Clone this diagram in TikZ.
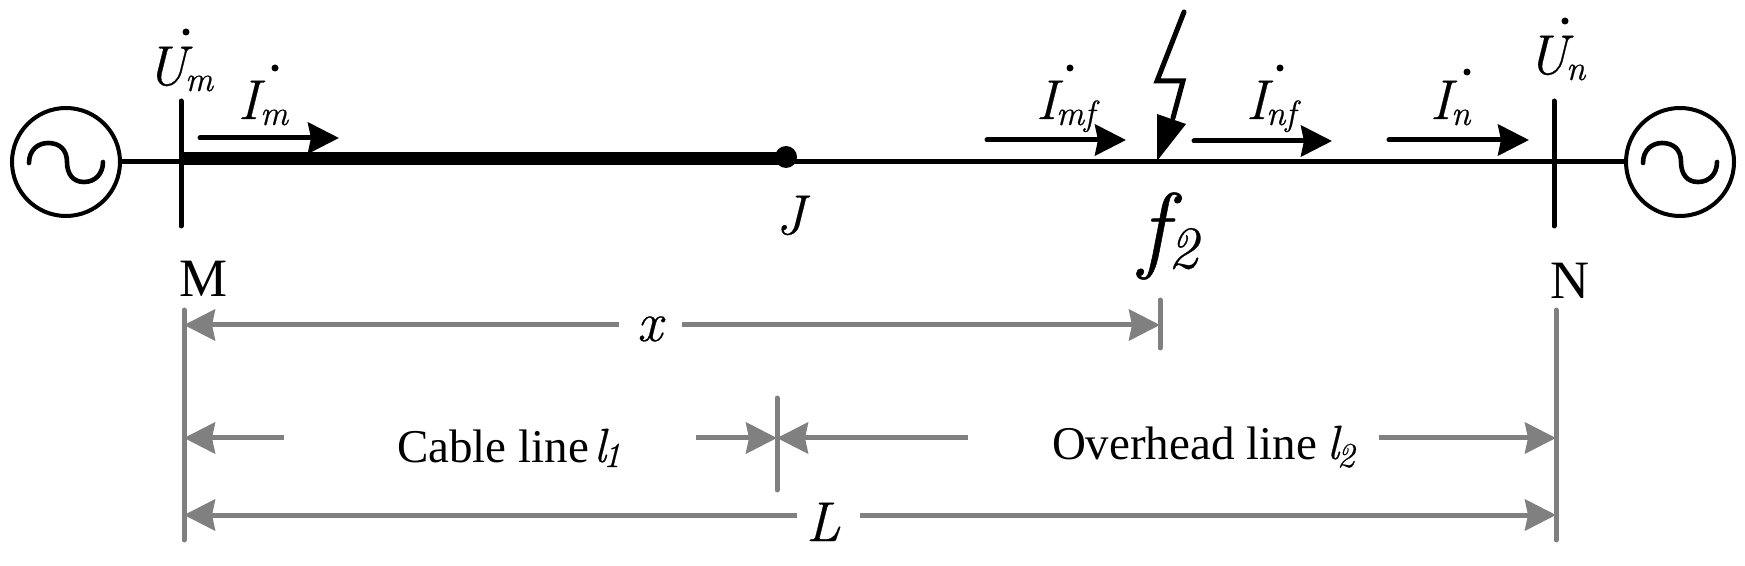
\documentclass[tikz,border=0pt]{standalone}
\usepackage{fontspec}
\setmainfont{Liberation Serif}
\newfontfamily\lmr{Latin Modern Roman}[ItalicFeatures={FakeBold=0.5}]
\usetikzlibrary{arrows.meta}
\newcommand{\tsz}[1]{\fontsize{#1pt}{#1pt}\selectfont}
\definecolor{gray50}{RGB}{128,128,128}
\tikzset{
  lbl/.style={anchor=base west,inner sep=0pt,outer sep=0pt,text=black},
  big/.style={lbl,font=\tsz{28}\lmr\itshape},
  subs/.style={lbl,font=\tsz{17.5}\lmr\itshape},
  roman/.style={lbl,font=\tsz{27}},
  capt/.style={lbl,font=\tsz{23.5}},
  dotmark/.style={circle,fill=black,inner sep=0pt,minimum size=3.5pt},
  gen/.style={circle,draw=black,line width=2pt,minimum size=54pt,inner sep=0pt},
  wire/.style={line width=2.5pt,draw=black},
  buswire/.style={line width=2.5pt,draw=black,line cap=round},
  cablewire/.style={line width=6.5pt,draw=black},
  current/.style={line width=2.5pt,draw=black,line cap=round,-{Stealth[length=15.5pt,width=15.5pt,inset=1.5pt]}},
  dimline/.style={line width=2.5pt,draw=gray50,-{Stealth[length=15.5pt,width=15.5pt,inset=1.5pt]}},
  dimbar/.style={line width=2.5pt,draw=gray50,line cap=round},
  sinewave/.pic={\draw[line width=2.3pt,line cap=round] (-37,1) .. controls (-37,-12) and (-28,-19) .. (-18,-19) .. controls (-6,-19) and (1,-12) .. (1,0) .. controls (1,12) and (7,20) .. (18,20) .. controls (29,20) and (37,12) .. (37,0);}
}
\begin{document}
\begin{tikzpicture}[x=0.5pt,y=-0.5pt]
\useasboundingbox (0,0) rectangle (1745,566);
\node[gen] (gl) at (66,162) {};
\node[gen] (gr) at (1680,162) {};
\pic at (66,162) {sinewave};
\pic at (1680,162) {sinewave};
\coordinate (mtop) at (181,101); \coordinate (mbot) at (181,226);
\coordinate (ntop) at (1554,101); \coordinate (nbot) at (1554,226);
\coordinate (mw) at (181,162); \coordinate (nw) at (1554,162);
\coordinate (mc) at (181,158.5); \coordinate (jc) at (785,158.5);
\node[circle,fill=black,inner sep=0pt,minimum size=11pt] (J) at (786,157) {};
\draw[wire] (gl.east) -- (mw);
\draw[wire] (J |- mw) -- (nw);
\draw[wire] (nw) -- (gr.west);
\draw[cablewire] (mc) -- (jc);
\draw[buswire] (mtop) -- (mbot);
\draw[buswire] (ntop) -- (nbot);
\coordinate (a1) at (200,138); \coordinate (a2) at (339,138);
\coordinate (b1) at (987,140); \coordinate (b2) at (1126,140);
\coordinate (c1) at (1194,141); \coordinate (c2) at (1332,141);
\coordinate (d1) at (1389,140); \coordinate (d2) at (1529,140);
\draw[current] (a1) -- (a2);
\draw[current] (b1) -- (b2);
\draw[current] (c1) -- (c2);
\draw[current] (d1) -- (d2);
\coordinate (f1) at (1184,12); \coordinate (f2) at (1157,81);
\coordinate (f3) at (1183,81); \coordinate (f4) at (1173,118);
\draw[line width=2.5pt,line cap=round,line join=miter] (f1) -- (f2) -- (f3) -- (f4);
\fill (1157,114) -- (1186,124) -- (1157,161) -- cycle;
\node[big] (um) at (146,85) {U}; \node[subs] (umsub) at (185,91) {m}; \node[dotmark] (umd) at (186,32) {};
\node[big] (im) at (238,119) {I}; \node[subs] (imsub) at (260,125) {m}; \node[dotmark] (imd) at (275,68) {};
\node[big] (imf) at (1036,119) {I}; \node[subs] (imfsub) at (1056,125) {mf}; \node[dotmark] (imfd) at (1070,68) {};
\node[big] (inf) at (1246,119) {I}; \node[subs] (infsub) at (1266,125) {nf}; \node[dotmark] (infd) at (1280,68) {};
\node[big] (in) at (1430,119) {I}; \node[subs] (insub) at (1451,125) {n}; \node[dotmark] (ind) at (1467,72) {};
\node[big] (un) at (1527,74) {U}; \node[subs] (unsub) at (1566,80) {n}; \node[dotmark] (und) at (1565,21) {};
\node[big] (jl) at (776,234) {J};
\node[lbl,font=\tsz{48}\lmr\itshape] (fl) at (1139,260) {f};
\node[lbl,font=\tsz{30}\lmr\itshape] (f2l) at (1168,268) {2};
\node[roman] (ml) at (179,297) {M};
\node[roman] (nl) at (1550,299) {N};
\coordinate (lt) at (184,310); \coordinate (lb) at (184,540);
\coordinate (rt) at (1556,310); \coordinate (rb) at (1556,540);
\coordinate (xt) at (1160,300); \coordinate (xb) at (1160,348);
\coordinate (jt) at (777,398); \coordinate (jb) at (777,490);
\draw[dimbar] (lt) -- (lb);
\draw[dimbar] (rt) -- (rb);
\draw[dimbar] (xt) -- (xb);
\draw[dimbar] (jt) -- (jb);
\node[big] (xl) at (637,341) {x};
\node[big] (Ll) at (806,541) {L};
\node[capt] (cab) at (397,462) {Cable line};
\node[lbl,font=\tsz{24}\lmr\itshape] (cl1) at (594,462) {l};
\node[subs] (cl1s) at (603,467) {1};
\node[capt] (ovh) at (1052,459) {Overhead line};
\node[lbl,font=\tsz{24}\lmr\itshape] (ol2) at (1327,459) {l};
\node[subs] (ol2s) at (1337,467) {2};
\coordinate (x1) at (619,325); \coordinate (x2) at (682,325);
\coordinate (x0) at (184,325); \coordinate (x3) at (1160,325);
\coordinate (c0) at (184,438); \coordinate (c1b) at (284,438);
\coordinate (c2b) at (696,438); \coordinate (c3) at (777,438);
\coordinate (o1) at (968,438); \coordinate (o2) at (1379,438); \coordinate (o3) at (1556,438);
\coordinate (L0) at (184,515); \coordinate (L1) at (797,515);
\coordinate (L2) at (860,515); \coordinate (L3) at (1556,515);
\draw[dimline] (x1) -- (x0);
\draw[dimline] (x2) -- (x3);
\draw[dimline] (c1b) -- (c0);
\draw[dimline] (c2b) -- (c3);
\draw[dimline] (o1) -- (c3);
\draw[dimline] (o2) -- (o3);
\draw[dimline] (L1) -- (L0);
\draw[dimline] (L2) -- (L3);
\end{tikzpicture}
\end{document}
